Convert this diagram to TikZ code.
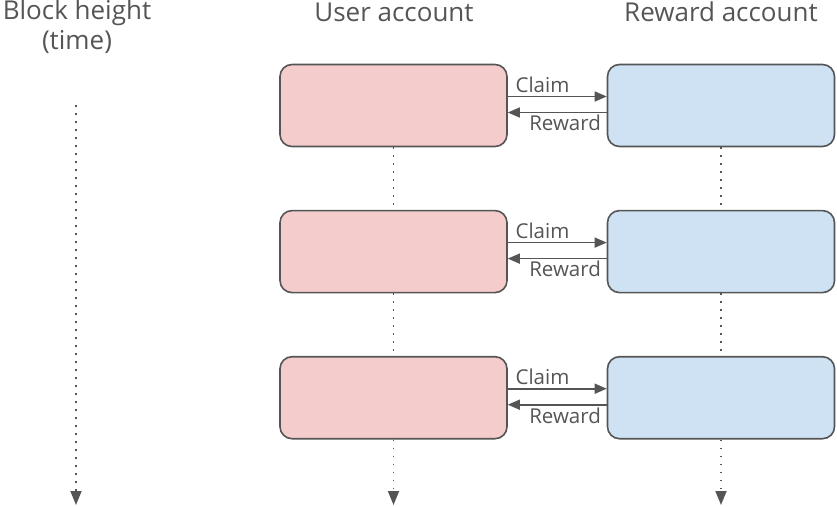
\documentclass[tikz,border=0pt]{standalone}
\usepackage{fontspec}
\setmainfont{Open Sans}
\usepackage{xcolor}
\usetikzlibrary{arrows.meta, positioning}
\definecolor{ink}{HTML}{555555}
\definecolor{userfill}{HTML}{F4CCCC}
\definecolor{rewardfill}{HTML}{CFE2F3}

\begin{document}
\begin{tikzpicture}[x=1pt, y=-1pt,
    user/.style={rectangle, draw=ink, line width=1.6pt, rounded corners=12pt, fill=userfill, minimum width=227pt, minimum height=82pt},
    reward/.style={user, fill=rewardfill},
    head/.style={font=\fontsize{26}{30}\selectfont, text=ink, align=center, inner sep=0pt},
    lbl/.style={font=\fontsize{20.5}{24}\selectfont, text=ink, inner sep=2pt},
    msg/.style={draw=ink, line width=1.6pt, -{Triangle[width=10pt, length=12pt]}},
    timeline/.style={draw=ink, line width=1.8pt, dash pattern=on 1.8pt off 6.2pt, -{Triangle[width=11pt, length=14pt]}},
    timegap/.style={draw=ink, line width=1.8pt, dash pattern=on 1.8pt off 6.2pt}
  ]
    \useasboundingbox (0,0) rectangle (837,506);

    % Headings
    \node (hTime) [head] at (77,27) {Block height\\(time)};
    \node (hUser) [head] at (394,12) {User account};
    \node (hReward) [head] at (721,12) {Reward account};

    % Accounts
    \node (user1) [user] at (393.5,105.5) {};
    \node (user2) [user, below=62.5pt of user1] {};
    \node (user3) [user, below=62.5pt of user2] {};
    \node (reward1) [reward] at (721,105.5) {};
    \node (reward2) [reward, below=62.5pt of reward1] {};
    \node (reward3) [reward, below=62.5pt of reward2] {};

    % Time axes
    \coordinate (tTop) at (76,105);
    \coordinate (tEnd) at (76,505);
    \coordinate (uEnd) at (393.5,505);
    \coordinate (rEnd) at (721,505);
    \draw [timeline] (tTop) -- (tEnd);
    \draw [timegap] (user1.south) -- (user2.north);
    \draw [timegap] (user2.south) -- (user3.north);
    \draw [timeline] (user3.south) -- (uEnd);
    \draw [timegap] (reward1.south) -- (reward2.north);
    \draw [timegap] (reward2.south) -- (reward3.north);
    \draw [timeline] (reward3.south) -- (rEnd);

    % Claims and rewards
    \draw [msg] ([yshift=9pt]user1.east) -- ([yshift=9pt]reward1.west) node [lbl, pos=0, above right, xshift=5pt, yshift=1pt] {Claim};
    \draw [msg] ([yshift=-7pt]reward1.west) -- ([yshift=-7pt]user1.east) node [lbl, pos=0, below left, xshift=-3pt] {Reward};
    \draw [msg] ([yshift=9pt]user2.east) -- ([yshift=9pt]reward2.west) node [lbl, pos=0, above right, xshift=5pt, yshift=1pt] {Claim};
    \draw [msg] ([yshift=-7pt]reward2.west) -- ([yshift=-7pt]user2.east) node [lbl, pos=0, below left, xshift=-3pt] {Reward};
    \draw [msg] ([yshift=9pt]user3.east) -- ([yshift=9pt]reward3.west) node [lbl, pos=0, above right, xshift=5pt, yshift=1pt] {Claim};
    \draw [msg] ([yshift=-7pt]reward3.west) -- ([yshift=-7pt]user3.east) node [lbl, pos=0, below left, xshift=-3pt] {Reward};

\end{tikzpicture}
\end{document}
